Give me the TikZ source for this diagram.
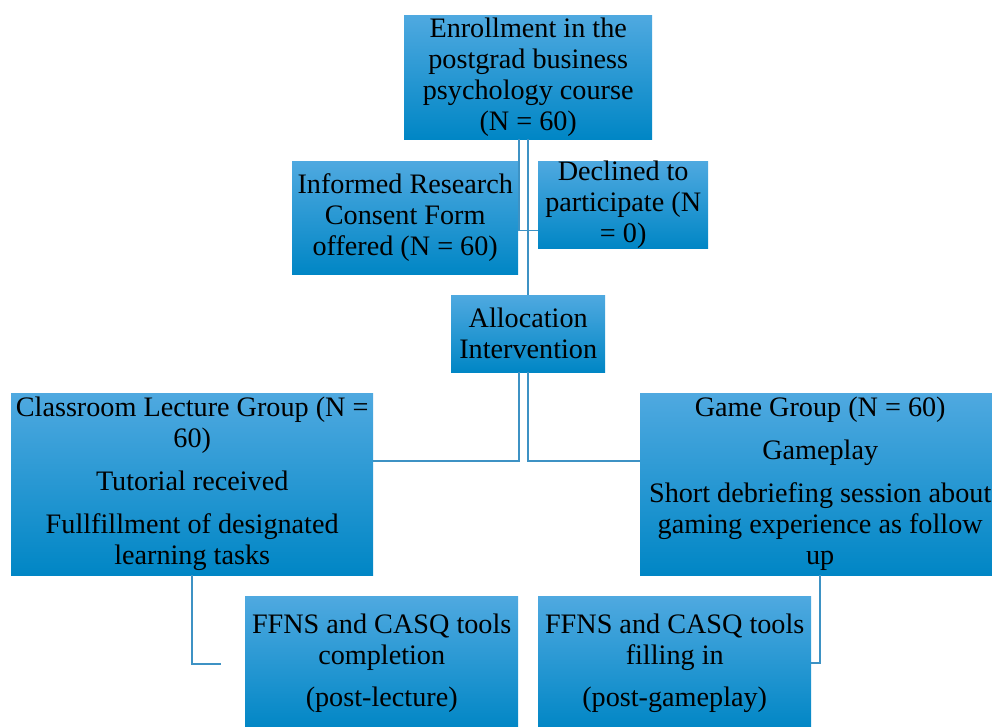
\documentclass[tikz,border=0pt]{standalone}
\usepackage{fontspec}
\setmainfont{Liberation Serif}
\definecolor{btop}{HTML}{4FA9E0}
\definecolor{bmid}{HTML}{049DE0}
\definecolor{bbot}{HTML}{0086C5}
\definecolor{lnc}{HTML}{3D92C4}
\tikzset{
  boxn/.style={anchor=north west, inner sep=0pt, draw=none,
    top color=btop, middle color=bmid, bottom color=bbot,
    align=center, font=\fontsize{28.2}{31}\selectfont},
  conn/.style={draw=lnc, line width=1.6pt}
}
\begin{document}
\begin{tikzpicture}[x=1pt,y=-1pt]
\useasboundingbox (0,0) rectangle (992,727);
\node[boxn, minimum width=248pt, minimum height=124pt] (enr) at (404,15)
  {Enrollment in the\\postgrad business\\psychology course\\(N = 60)};
\node[boxn, minimum width=226pt, minimum height=113pt] (inf) at (292,161)
  {Informed Research\\Consent Form\\offered (N = 60)};
\node[boxn, minimum width=170pt, minimum height=85pt] (dec) at (538,161)
  {Declined to\\participate (N\\= 0)};
\node[boxn, minimum width=154pt, minimum height=77pt] (alloc) at (451,295)
  {Allocation\\Intervention};
\node[boxn, minimum width=362pt, minimum height=182pt] (cls) at (11,393)
  {Classroom Lecture Group (N =\\60)\\[12pt]Tutorial received\\[12pt]Fullfillment of designated\\learning tasks};
\node[boxn, minimum width=360pt, minimum height=182pt] (game) at (640,393)
  {Game Group (N = 60)\\[12pt]Gameplay\\[12pt]Short debriefing session about\\gaming experience as follow\\up};
\node[boxn, minimum width=273pt, minimum height=134pt] (ffl) at (245,596)
  {FFNS and CASQ tools\\completion\\[11pt](post-lecture)};
\node[boxn, minimum width=273pt, minimum height=134pt] (ffr) at (538,596)
  {FFNS and CASQ tools\\filling in\\[11pt](post-gameplay)};
\coordinate (flend) at ([xshift=-24pt,yshift=-1pt]ffl.west);
\draw[conn] ([xshift=-9pt]enr.south) |- ([yshift=-25.5pt]dec.west);
\draw[conn] (enr.south) -- (alloc.north);
\draw[conn] ([xshift=-9pt]alloc.south) |- ([yshift=23pt]cls.east);
\draw[conn] (alloc.south) |- ([yshift=23pt]game.west);
\draw[conn] (cls.south) |- (flend);
\draw[conn] (game.south) |- (ffr.east);
\end{tikzpicture}
\end{document}
